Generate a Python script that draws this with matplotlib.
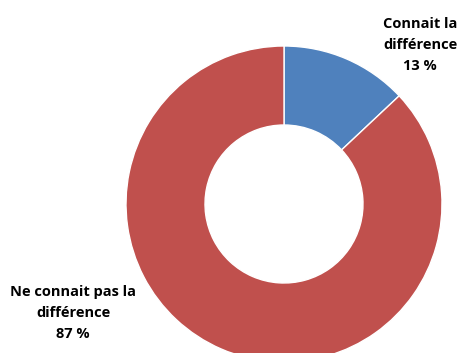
import matplotlib
matplotlib.use("Agg")
import matplotlib.pyplot as plt

categories = ["Connait la\ndifférence", "Ne connait pas la\ndifférence"]
values = [13, 87]
colors = ["#4F81BD", "#C0504D"]

W, H, DPI = 461, 353, 100
fig = plt.figure(figsize=(W / DPI, H / DPI), dpi=DPI)
ax = fig.add_axes([0, 0, 1, 1])

cx, cy, r = 284, 204, 158  # pixel centre/radius of the donut
ax.pie(values, colors=colors, startangle=90, counterclock=False, radius=1,
       wedgeprops=dict(width=0.5, edgecolor="white", linewidth=1))
ax.set_xlim(-cx / r, (W - cx) / r)
ax.set_ylim(-(H - cy) / r, cy / r)
ax.set_aspect("auto")
ax.axis("off")

label_pos = [((420 - cx) / r, (cy - 45) / r), ((73 - cx) / r, (cy - 313) / r)]
for cat, v, (x, y) in zip(categories, values, label_pos):
    ax.text(x, y, f"{cat}\n{v} %", ha="center", va="center", fontsize=10.5,
            fontweight="bold", family="Open Sans", linespacing=1.6, color="black")

fig.savefig("out.png", dpi=DPI)
